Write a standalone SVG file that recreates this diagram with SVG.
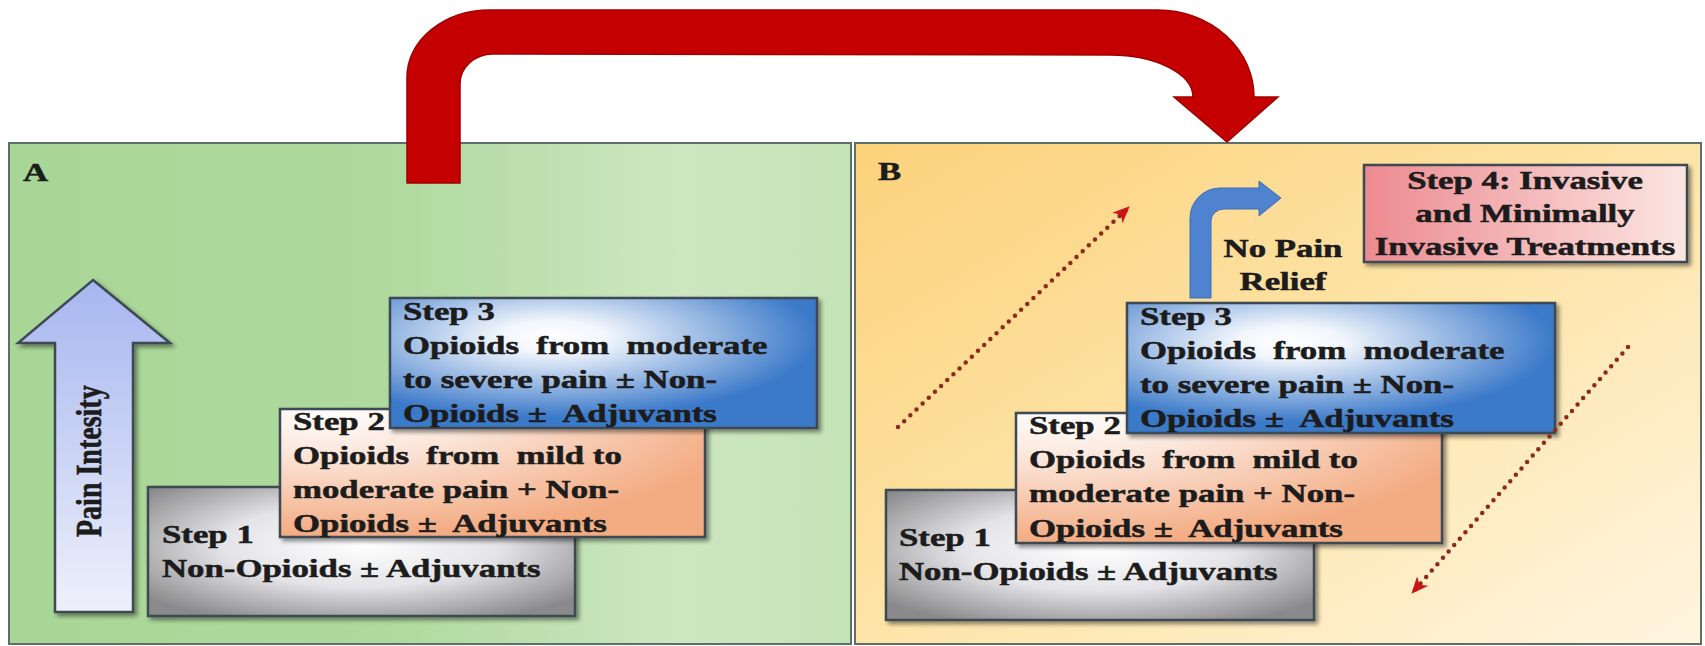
<svg xmlns="http://www.w3.org/2000/svg" width="1705" height="646" viewBox="0 0 1705 646">
<defs>
  <linearGradient id="gA" x1="0" y1="0" x2="1" y2="0">
    <stop offset="0" stop-color="#a8d696"/>
    <stop offset="0.45" stop-color="#afd99e"/>
    <stop offset="0.8" stop-color="#cde7c1"/>
    <stop offset="1" stop-color="#c4e3b6"/>
  </linearGradient>
  <linearGradient id="gB" x1="0" y1="0" x2="1" y2="1">
    <stop offset="0" stop-color="#fcd17a"/>
    <stop offset="0.5" stop-color="#fde4a8"/>
    <stop offset="1" stop-color="#fff5e0"/>
  </linearGradient>
  <radialGradient id="gS3" cx="0.38" cy="0.3" r="0.62">
    <stop offset="0" stop-color="#ffffff"/>
    <stop offset="0.2" stop-color="#f2f6fc"/>
    <stop offset="1" stop-color="#3b79c9"/>
  </radialGradient>
  <radialGradient id="gS2" cx="0.12" cy="0" r="1">
    <stop offset="0" stop-color="#ffffff"/>
    <stop offset="0.35" stop-color="#fbe6da"/>
    <stop offset="1" stop-color="#f3ab82"/>
  </radialGradient>
  <radialGradient id="gS1" cx="0.5" cy="0.45" r="0.65">
    <stop offset="0" stop-color="#ffffff"/>
    <stop offset="0.5" stop-color="#e4e4e8"/>
    <stop offset="1" stop-color="#8a8a8c"/>
  </radialGradient>
  <linearGradient id="gS4" x1="0" y1="0" x2="1" y2="0">
    <stop offset="0" stop-color="#ec8a90"/>
    <stop offset="1" stop-color="#fce6e2"/>
  </linearGradient>
  <linearGradient id="gPain" x1="0" y1="0" x2="0" y2="1">
    <stop offset="0" stop-color="#a6b6ef"/>
    <stop offset="1" stop-color="#eef0fb"/>
  </linearGradient>
  <filter id="sh" x="-10%" y="-10%" width="125%" height="130%">
    <feGaussianBlur in="SourceAlpha" stdDeviation="2"/>
    <feOffset dx="3" dy="3" result="o"/>
    <feComponentTransfer><feFuncA type="linear" slope="0.45"/></feComponentTransfer>
    <feMerge><feMergeNode/><feMergeNode in="SourceGraphic"/></feMerge>
  </filter>
  <marker id="dotHead" viewBox="0 0 14 12" refX="12" refY="6" markerWidth="17" markerHeight="15" markerUnits="userSpaceOnUse" orient="auto">
    <path d="M0,0 L14,6 L0,12 L4,6 Z" fill="#cc1414"/>
  </marker>
</defs>
<style>
  .panel { stroke: #5e6e68; stroke-width: 2; }
  .box { stroke: #3e4852; stroke-width: 2.5; filter: url(#sh); }
  .t { font-family: "Liberation Serif", "Times New Roman", serif; font-weight: bold; font-size: 24.5px; fill: #1c1c1c; stroke: #1c1c1c; stroke-width: 0.5px; }
  .dots { fill: none; stroke: #8e2a1c; stroke-width: 4.5; stroke-linecap: round; stroke-dasharray: 0 8.5; }
</style>
<rect width="1705" height="646" fill="#ffffff"/>

<g id="panelA">
  <rect class="panel" x="9" y="143" width="842" height="501" fill="url(#gA)"/>
  <text class="t" transform="translate(23,0) scale(1.42,1)" y="181">A</text>
</g>
<g id="panelB">
  <rect class="panel" x="855" y="143" width="846" height="501" fill="url(#gB)"/>
  <text class="t" transform="translate(878,0) scale(1.42,1)" y="180">B</text>
</g>

<g id="painArrow">
  <path class="box" d="M93,280 L170,343 L133,343 L133,612 L55,612 L55,343 L18,343 Z" fill="url(#gPain)"/>
  <text class="t" style="font-size:28px" transform="translate(101,537) scale(1.3,1) rotate(-90)" x="0" y="0">Pain Intesity</text>
</g>

<g id="A-step1">
  <rect class="box" x="148" y="487" width="427" height="129" fill="url(#gS1)"/>
  <text class="t" xml:space="preserve" transform="translate(162,0) scale(1.42,1)"><tspan x="0" y="543">Step 1</tspan><tspan x="0" y="577">Non-Opioids ± Adjuvants</tspan></text>
</g>
<g id="A-step2">
  <rect class="box" x="280" y="409" width="425" height="128" fill="url(#gS2)"/>
  <text class="t" xml:space="preserve" transform="translate(293,0) scale(1.42,1)"><tspan x="0" y="430">Step 2</tspan><tspan x="0" y="464">Opioids  from  mild to</tspan><tspan x="0" y="498">moderate pain + Non-</tspan><tspan x="0" y="532">Opioids ±  Adjuvants</tspan></text>
</g>
<g id="A-step3">
  <rect class="box" x="390" y="298" width="427" height="130" fill="url(#gS3)"/>
  <text class="t" xml:space="preserve" transform="translate(403,0) scale(1.42,1)"><tspan x="0" y="320">Step 3</tspan><tspan x="0" y="354">Opioids  from  moderate</tspan><tspan x="0" y="388">to severe pain ± Non-</tspan><tspan x="0" y="422">Opioids ±  Adjuvants</tspan></text>
</g>

<g id="B-step1">
  <rect class="box" x="886" y="490" width="428" height="130" fill="url(#gS1)"/>
  <text class="t" xml:space="preserve" transform="translate(899,0) scale(1.42,1)"><tspan x="0" y="546">Step 1</tspan><tspan x="0" y="580">Non-Opioids ± Adjuvants</tspan></text>
</g>
<g id="B-step2">
  <rect class="box" x="1016" y="413" width="426" height="130" fill="url(#gS2)"/>
  <text class="t" xml:space="preserve" transform="translate(1029,0) scale(1.42,1)"><tspan x="0" y="434">Step 2</tspan><tspan x="0" y="468">Opioids  from  mild to</tspan><tspan x="0" y="502">moderate pain + Non-</tspan><tspan x="0" y="537">Opioids ±  Adjuvants</tspan></text>
</g>
<g id="B-step3">
  <rect class="box" x="1127" y="303" width="428" height="130" fill="url(#gS3)"/>
  <text class="t" xml:space="preserve" transform="translate(1140,0) scale(1.42,1)"><tspan x="0" y="325">Step 3</tspan><tspan x="0" y="359">Opioids  from  moderate</tspan><tspan x="0" y="393">to severe pain ± Non-</tspan><tspan x="0" y="427">Opioids ±  Adjuvants</tspan></text>
</g>

<g id="B-step4">
  <rect class="box" x="1364" y="165" width="323" height="97" fill="url(#gS4)"/>
  <text class="t" text-anchor="middle" transform="translate(1525,0) scale(1.42,1)"><tspan x="0" y="189">Step 4: Invasive</tspan><tspan x="0" y="222">and Minimally</tspan><tspan x="0" y="255">Invasive Treatments</tspan></text>
</g>

<g id="noRelief">
  <text class="t" text-anchor="middle" transform="translate(1283,0) scale(1.42,1)"><tspan x="0" y="257">No Pain</tspan><tspan x="0" y="290">Relief</tspan></text>
</g>

<g id="connectors">
  <path id="bigArrow" d="M407,183 L407,77 A83,67 0 0 1 490,10 L1158,10 A96,87 0 0 1 1254,97 L1278,97 L1227,142 L1174,97 L1193,97 A83,42 0 0 0 1110,55 L493,54 A33,30 0 0 0 460,84 L460,183 Z" fill="#c40000" stroke="#a00000" stroke-width="1.5"/>
  <path id="blueArrow" d="M1190,298 L1190,218 A30,30 0 0 1 1220,188 L1259,188 L1259,181 L1281,198 L1259,216 L1259,209 L1224,209 A13,12 0 0 0 1211,221 L1211,298 Z" fill="#4f82cf" stroke="#3f6fb8" stroke-width="1"/>
  <line class="dots" x1="898" y1="427" x2="1128" y2="208" marker-end="url(#dotHead)"/>
  <line class="dots" x1="1628" y1="347" x2="1413" y2="592" marker-end="url(#dotHead)"/>
</g>
</svg>
